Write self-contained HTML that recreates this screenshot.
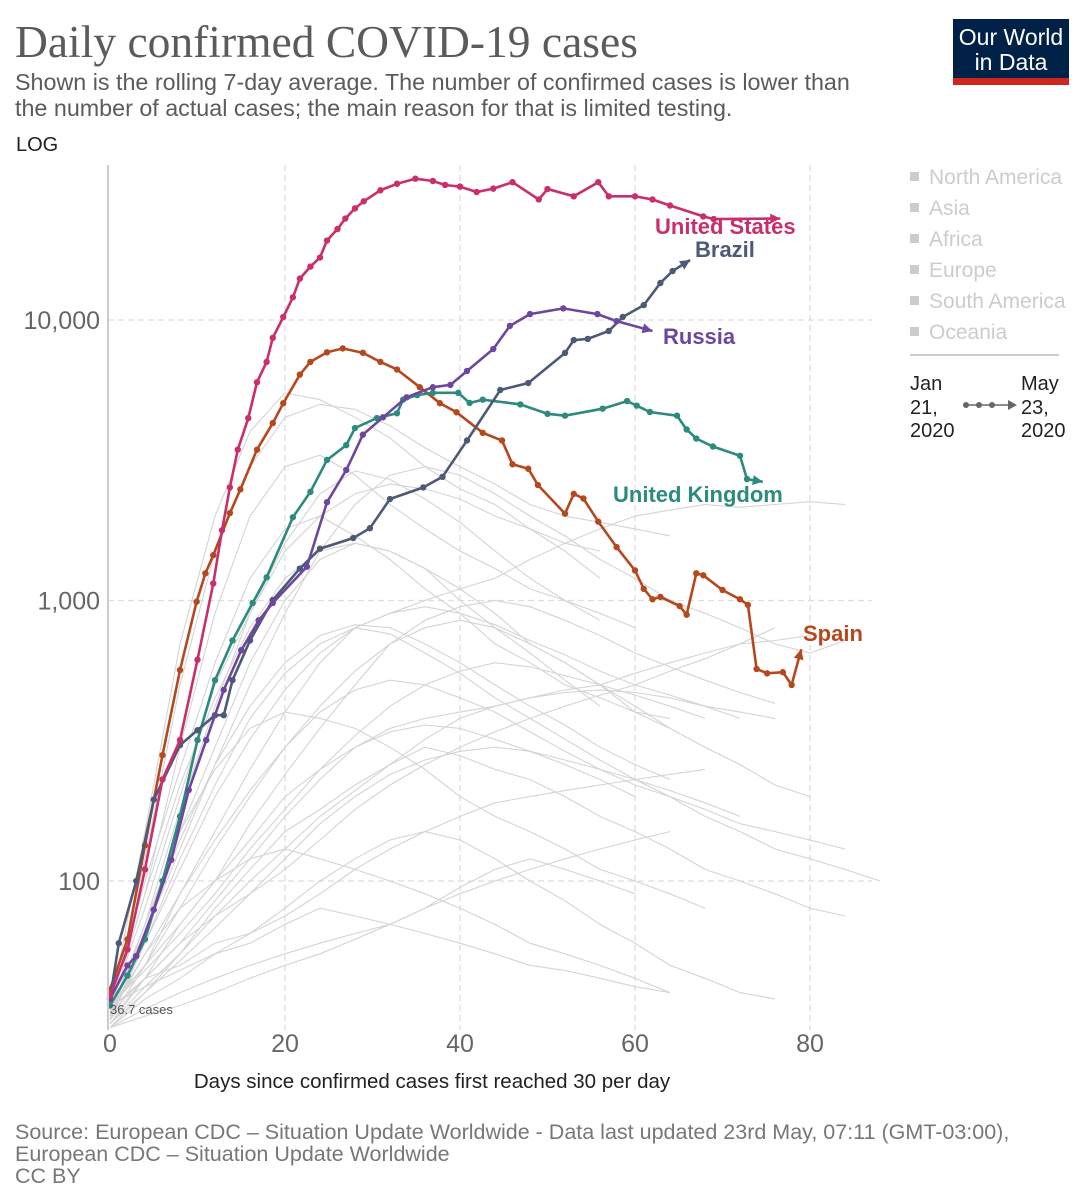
<!DOCTYPE html>
<html><head><meta charset="utf-8">
<style>
body{margin:0;background:#fff;width:1092px;height:1200px;overflow:hidden;font-family:"Liberation Sans",sans-serif}
svg{position:absolute;left:0;top:0}
</style></head>
<body>
<svg id="chart" width="1092" height="1200">
<text x="15" y="57" font-family="Liberation Serif,serif" font-size="45.5" fill="#5b5b5b">Daily confirmed COVID-19 cases</text>
<text x="15" y="90" font-size="23.3" fill="#5b5b5b">Shown is the rolling 7-day average. The number of confirmed cases is lower than</text>
<text x="15" y="116" font-size="23.3" fill="#5b5b5b">the number of actual cases; the main reason for that is limited testing.</text>
<text x="16" y="151" font-size="20" fill="#222">LOG</text>
<g>
<rect x="953" y="19" width="116" height="66" fill="#002147"/>
<rect x="953" y="78" width="116" height="7" fill="#ce261e"/>
<text x="1011" y="45" font-size="23" fill="#fff" text-anchor="middle">Our World</text>
<text x="1011" y="70" font-size="23" fill="#fff" text-anchor="middle">in Data</text>
</g>
<g id="grid"></g>
<g id="greys"></g>
<g id="series"></g>
<g id="axes"></g>
<text x="432" y="1088" font-size="20.5" fill="#222" text-anchor="middle">Days since confirmed cases first reached 30 per day</text>
<g id="legend"></g>
<text x="15" y="1139" font-size="21.5" fill="#777">Source: European CDC – Situation Update Worldwide - Data last updated 23rd May, 07:11 (GMT-03:00),</text>
<text x="15" y="1161" font-size="21.5" fill="#777">European CDC – Situation Update Worldwide</text>
<text x="15" y="1183" font-size="21.5" fill="#777">CC BY</text>
</svg>
<script>
const xTicks=[0,20,40,60,80];
const yTicks=[100,1000,10000];
const yTickLabels=["100","1,000","10,000"];
const regions=["North America","Asia","Africa","Europe","South America","Oceania"];
const usDays=[0,2,4,6,8,10,11.8,12.8,13.7,14.6,15.8,16.8,17.9,18.6,19.8,20.9,21.7,22.9,24,24.8,26,26.9,28,29,30.9,32.8,34.9,36.9,38.3,40,41.9,43.8,46,49,50,53,55.8,57,60,62,64,67.8,69,76.6];
const usVals=[39,57,110,230,318,615,1150,1780,2530,3450,4470,6000,7090,8640,10250,12050,14050,15500,16700,19200,21100,23000,25000,26500,29000,30600,31900,31300,30300,29900,28600,29400,31000,26900,29300,27600,31000,27600,27600,26900,25600,23400,22900,23000];
const brDays=[0,1,3,5,8,10,12,13,14,16,18.6,21.7,24,27.8,29.7,32,35.8,38,40.8,44.6,47.8,52,53,54.6,57,58.6,61,62.9,64.3,66.3];
const brVals=[38,60,100,195,305,345,390,390,520,720,1004,1300,1530,1670,1810,2300,2530,2760,3720,5630,5960,7630,8480,8560,9140,10250,11300,13550,14950,16370];
const ruDays=[0,2,3,5,7,9,11,13,15,17,18.6,22.5,24.8,27,28.9,31.2,33.9,36.9,38.9,40.8,43.8,45.7,48,51.8,55.7,57.9,62];
const ruVals=[38,50,54,79,119,211,318,480,665,850,980,1320,2240,2920,3900,4500,5300,5760,5870,6580,7880,9530,10500,11000,10500,9910,9140];
const ukDays=[0,2,4,6,8,10,12,14,16.3,17.9,20.9,22.9,24.8,27,28,30.5,32.8,33.5,35.1,36.9,39.8,41.1,42.6,46.9,50,52,56.3,59.1,60.2,61.7,64.8,65.9,67,68.9,72,72.8,74.6];
const ukVals=[36,46,62,100,170,318,520,720,980,1210,1980,2440,3170,3580,4120,4470,4650,5200,5400,5500,5500,5060,5200,5000,4630,4560,4830,5140,4950,4700,4560,4070,3780,3540,3280,2710,2650];
const esDays=[0,2,4,6,8,9.9,10.9,11.8,13.7,14.9,16.8,18.6,19.8,21.7,22.9,24.8,26.6,28.9,30.9,32.8,35.4,37.7,39.6,42.6,44.8,46,47.8,48.9,52,53,54.1,55.8,57.9,60,61,62,62.9,65.1,65.9,67,67.8,70,72,72.9,73.9,75.1,76.9,77.9,79];
const esVals=[41,62,134,281,565,990,1250,1450,2050,2490,3450,4290,5050,6390,7090,7670,7920,7640,7090,6660,5760,5050,4690,3960,3720,3060,2950,2580,2040,2400,2310,1910,1550,1280,1100,1010,1030,955,890,1250,1230,1090,1010,965,570,550,555,500,670];
const greyVals=[
[35,150,700,2000,4000,5500,5200,4500,3800,3000,2500,2200,1800,1500,1200],
[33,120,500,1500,3000,4500,5000,4800,4200,3500,3000,2600,2200,2000,1900,1800,1700],
[34,90,300,900,2000,3000,3300,2800,2200,1800,1500,1300,1100,1000,900,800],
[36,80,200,500,900,1500,2000,2400,2600,2500,2300,2000,1800,1600,1500],
[32,60,150,300,600,1000,1400,1600,1500,1300,1100,900,700,600,500,400,350],
[35,50,90,150,250,400,600,800,900,1000,1100,1200,1400,1600,1800,2000,2100,2200,2150,2200,2250,2200],
[31,45,70,100,140,200,250,300,350,380,400,420,450,480,500,550,600,650,700,720,750],
[33,70,150,250,350,400,380,350,300,250,200,170,150,130,110,100,90,80],
[30,40,55,80,110,150,180,220,260,300,280,250,230,200,170,150,130,110,100,90,80,75],
[34,55,80,100,120,130,120,110,100,90,80,70,60,55,50,45,40],
[32,45,60,75,90,110,140,180,220,260,300,340,380,420,460,500,560,620,700,800],
[35,100,250,600,1200,1800,2000,1700,1400,1100,900,700,600,500,450,400,380],
[30,38,45,55,60,70,80,75,70,65,60,55,50,48,45,42,40],
[36,50,70,100,160,240,350,500,700,800,850,800,700,600,500,420,350,300,260,220,200],
[33,60,120,220,380,550,700,800,760,650,550,450,380,320,270,230,200,170,150,130,120,110,100],
[31,42,55,75,100,130,170,210,260,320,380,420,450,470,480,470,450,420,380],
[35,45,50,60,65,75,90,110,130,150,170,190,200,210,220,230,240,250],
[34,70,140,260,420,600,750,820,800,700,600,500,420,360,300,260,230],
[32,50,80,130,200,300,420,560,700,850,950,1000,950,850,750,650,580,520,470,430],
[36,42,48,55,65,80,100,120,140,150,140,120,100,85,70,60,50,45,40,38],
[30,35,40,45,50,55,60,65,70,80,90,100,110,120,130,140,150],
[34,90,220,450,800,1200,1500,1600,1500,1300,1000,800,650,520,420],
[35,60,110,200,320,480,650,800,900,950,900,820,720,640,560,500,460,420,400,380],
[31,40,52,68,90,120,160,200,240,270,290,300,290,270,250,230,210,190,170],
[33,55,90,140,210,300,400,480,520,500,450,400,340,290,250,220,200,180,160,150,140,130],
[37,65,130,260,500,900,1500,2200,2800,3000,2800,2400,2000,1700,1400,1200,1000,900,800,700,650,720],
[30,33,36,40,45,50,55,62,70,80,95,110,120,110,100,90],
[34,45,60,85,120,170,230,300,340,360,350,320,290,260,230,200],
[32,70,180,420,900,1600,2400,2900,2700,2300,1900,1500,1200,1000,850],
[36,48,65,90,130,180,250,330,420,500,560,600,580,540,500,460,420,380]
];
const greyStep=4;

const NS="http://www.w3.org/2000/svg";
const X0=110,XS=8.75,Y100=881,DEC=280.5,TOP=165,BOT=1030,RIGHT=872;
function x(d){return X0+XS*d;}
function y(v){return Y100-DEC*Math.log10(v/100);}
function mk(tag,attrs,parent){const e=document.createElementNS(NS,tag);for(const k in attrs)e.setAttribute(k,attrs[k]);parent.appendChild(e);return e;}
const svg=document.getElementById('chart');
const defs=mk('defs',{},svg);
const cp=mk('clipPath',{id:'clip'},defs);
mk('rect',{x:100,y:TOP,width:800,height:BOT-TOP},cp);

const grid=document.getElementById('grid');
yTicks.forEach((t,i)=>{
  const l=mk('line',{x1:108,x2:RIGHT,y1:y(t),y2:y(t),stroke:'#ddd','stroke-dasharray':'6,4','stroke-width':1.3},grid);
  
  
  const tx=mk('text',{x:100,y:y(t)+9,'font-size':25,fill:'#666','text-anchor':'end'},grid);
  tx.textContent=yTickLabels[i];
  
  
});
xTicks.forEach(t=>{
  if(t>0){const l=mk('line',{x1:x(t),x2:x(t),y1:TOP,y2:BOT,stroke:'#ddd','stroke-dasharray':'6,4','stroke-width':1.3},grid);
  
  }
  const tx=mk('text',{x:x(t),y:1052,'font-size':25,fill:'#666','text-anchor':'middle'},grid);
  tx.textContent=String(t);
  
  
});
const ax=mk('line',{x1:108,x2:108,y1:TOP,y2:BOT,stroke:'#ccc','stroke-width':2},document.getElementById('axes'));



const greys=document.getElementById('greys');
greys.setAttribute('clip-path','url(#clip)');
greyVals.forEach(vals=>{
  const pts=vals.map((v,i)=>x(i*greyStep).toFixed(1)+','+y(v).toFixed(1)).join(' ');
  const p=mk('polyline',{points:pts,fill:'none',stroke:'#d4d4d4','stroke-width':1.1},greys);
  
  
});

const seriesG=document.getElementById('series');
const series=[
 {name:'spain',days:esDays,vals:esVals,color:'#b5481f',label:'Spain',lx:803,ly:641},
 {name:'united-kingdom',days:ukDays,vals:ukVals,color:'#2c8a7e',label:'United Kingdom',lx:613,ly:502},
 {name:'brazil',days:brDays,vals:brVals,color:'#4c5a78',label:'Brazil',lx:695,ly:257},
 {name:'russia',days:ruDays,vals:ruVals,color:'#6e46a0',label:'Russia',lx:663,ly:344},
 {name:'united-states',days:usDays,vals:usVals,color:'#c92f6b',label:'United States',lx:655,ly:234}
];
series.forEach(s=>{
  const g=mk('g',{},seriesG);
  
  
  const pts=s.days.map((d,i)=>[x(d),y(s.vals[i])]);
  const pl=mk('polyline',{points:pts.map(p=>p[0].toFixed(1)+','+p[1].toFixed(1)).join(' '),fill:'none',stroke:s.color,'stroke-width':2.6},g);
  
  
  pts.slice(0,-1).forEach(p=>{
    const c=mk('circle',{cx:p[0],cy:p[1],r:3.2,fill:s.color},g);
    
    
  });
  const a=pts[pts.length-2],b=pts[pts.length-1];
  const ang=Math.atan2(b[1]-a[1],b[0]-a[0]);
  const L=10,W=5;
  const p1=[b[0]-L*Math.cos(ang)+W*Math.sin(ang),b[1]-L*Math.sin(ang)-W*Math.cos(ang)];
  const p2=[b[0]-L*Math.cos(ang)-W*Math.sin(ang),b[1]-L*Math.sin(ang)+W*Math.cos(ang)];
  const ar=mk('polygon',{points:`${b[0]},${b[1]} ${p1[0]},${p1[1]} ${p2[0]},${p2[1]}`,fill:s.color},g);
  
  
  const t=mk('text',{x:s.lx,y:s.ly,'font-size':22,'font-weight':'bold',fill:s.color},g);
  t.textContent=s.label;
  
  
});
const st=mk('text',{x:110,y:1014,'font-size':13,fill:'#555'},seriesG);
st.textContent='36.7 cases';



const lg=document.getElementById('legend');
regions.forEach((r,i)=>{
  const yy=177+i*31;
  const sq=mk('rect',{x:910,y:yy-5,width:9,height:9,fill:'#ccc'},lg);
  
  
  const t=mk('text',{x:929,y:yy+7,'font-size':21,fill:'#ccc'},lg);
  t.textContent=r;
  
  
});
const sep=mk('line',{x1:910,x2:1059,y1:355,y2:355,stroke:'#ccc','stroke-width':2},lg);


[['Jan',390],['21,',414],['2020',437]].forEach(([s,yy])=>{const t=mk('text',{x:910,y:yy,'font-size':20,fill:'#222'},lg);t.textContent=s;

});
[['May',390],['23,',414],['2020',437]].forEach(([s,yy])=>{const t=mk('text',{x:1021,y:yy,'font-size':20,fill:'#222'},lg);t.textContent=s;

});
const tl=mk('line',{x1:966,x2:1010,y1:405,y2:405,stroke:'#666','stroke-width':1.5},lg);


[966,979,992].forEach(cx=>{const c=mk('circle',{cx:cx,cy:405,r:3,fill:'#666'},lg);

});
const th=mk('polygon',{points:'1017,405 1008,400 1008,410',fill:'#666'},lg);


</script>
</body></html>
